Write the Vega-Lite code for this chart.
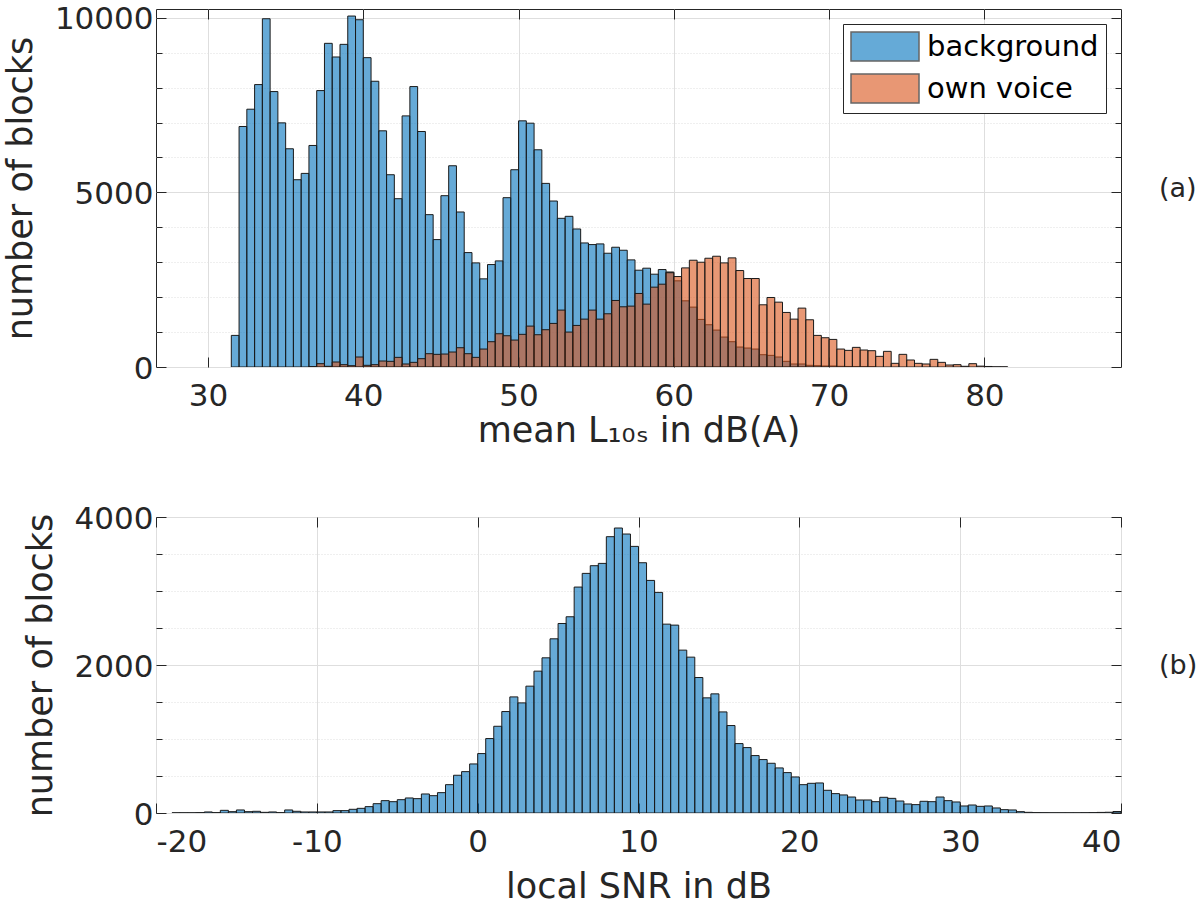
{
  "$schema": "https://vega.github.io/schema/vega-lite/v6.json",
  "padding": {"left": 2, "top": 3, "right": 0, "bottom": 0},
  "config": {
    "font": "DejaVu Sans",
    "view": {"stroke": "#262626", "strokeWidth": 1},
    "axis": {
      "domain": false,
      "labelFontSize": 31,
      "labelColor": "#262626",
      "titleFontSize": 35,
      "titleFontWeight": "normal",
      "titleColor": "#262626",
      "tickColor": "#262626",
      "gridColor": "#dedede",
      "gridWidth": 1
    }
  },
  "datasets": {
    "levels": [
      {"lo": 31.5, "hi": 32.0, "n": 905, "s": "background"},
      {"lo": 32.0, "hi": 32.5, "n": 6886, "s": "background"},
      {"lo": 32.5, "hi": 33.0, "n": 7381, "s": "background"},
      {"lo": 33.0, "hi": 33.5, "n": 8086, "s": "background"},
      {"lo": 33.5, "hi": 34.0, "n": 9971, "s": "background"},
      {"lo": 34.0, "hi": 34.5, "n": 7886, "s": "background"},
      {"lo": 34.5, "hi": 35.0, "n": 6990, "s": "background"},
      {"lo": 35.0, "hi": 35.5, "n": 6248, "s": "background"},
      {"lo": 35.5, "hi": 36.0, "n": 5362, "s": "background"},
      {"lo": 36.0, "hi": 36.5, "n": 5543, "s": "background"},
      {"lo": 36.5, "hi": 37.0, "n": 6343, "s": "background"},
      {"lo": 37.0, "hi": 37.5, "n": 7914, "s": "background"},
      {"lo": 37.5, "hi": 38.0, "n": 9267, "s": "background"},
      {"lo": 38.0, "hi": 38.5, "n": 8876, "s": "background"},
      {"lo": 38.5, "hi": 39.0, "n": 9238, "s": "background"},
      {"lo": 39.0, "hi": 39.5, "n": 10048, "s": "background"},
      {"lo": 39.5, "hi": 40.0, "n": 9943, "s": "background"},
      {"lo": 40.0, "hi": 40.5, "n": 8857, "s": "background"},
      {"lo": 40.5, "hi": 41.0, "n": 8181, "s": "background"},
      {"lo": 41.0, "hi": 41.5, "n": 6762, "s": "background"},
      {"lo": 41.5, "hi": 42.0, "n": 5505, "s": "background"},
      {"lo": 42.0, "hi": 42.5, "n": 4819, "s": "background"},
      {"lo": 42.5, "hi": 43.0, "n": 7190, "s": "background"},
      {"lo": 43.0, "hi": 43.5, "n": 8029, "s": "background"},
      {"lo": 43.5, "hi": 44.0, "n": 6743, "s": "background"},
      {"lo": 44.0, "hi": 44.5, "n": 4362, "s": "background"},
      {"lo": 44.5, "hi": 45.0, "n": 3648, "s": "background"},
      {"lo": 45.0, "hi": 45.5, "n": 4905, "s": "background"},
      {"lo": 45.5, "hi": 46.0, "n": 5762, "s": "background"},
      {"lo": 46.0, "hi": 46.5, "n": 4438, "s": "background"},
      {"lo": 46.5, "hi": 47.0, "n": 3276, "s": "background"},
      {"lo": 47.0, "hi": 47.5, "n": 2981, "s": "background"},
      {"lo": 47.5, "hi": 48.0, "n": 2524, "s": "background"},
      {"lo": 48.0, "hi": 48.5, "n": 2933, "s": "background"},
      {"lo": 48.5, "hi": 49.0, "n": 3038, "s": "background"},
      {"lo": 49.0, "hi": 49.5, "n": 4848, "s": "background"},
      {"lo": 49.5, "hi": 50.0, "n": 5648, "s": "background"},
      {"lo": 50.0, "hi": 50.5, "n": 7048, "s": "background"},
      {"lo": 50.5, "hi": 51.0, "n": 6981, "s": "background"},
      {"lo": 51.0, "hi": 51.5, "n": 6219, "s": "background"},
      {"lo": 51.5, "hi": 52.0, "n": 5257, "s": "background"},
      {"lo": 52.0, "hi": 52.5, "n": 4752, "s": "background"},
      {"lo": 52.5, "hi": 53.0, "n": 4257, "s": "background"},
      {"lo": 53.0, "hi": 53.5, "n": 4314, "s": "background"},
      {"lo": 53.5, "hi": 54.0, "n": 3952, "s": "background"},
      {"lo": 54.0, "hi": 54.5, "n": 3552, "s": "background"},
      {"lo": 54.5, "hi": 55.0, "n": 3505, "s": "background"},
      {"lo": 55.0, "hi": 55.5, "n": 3524, "s": "background"},
      {"lo": 55.5, "hi": 56.0, "n": 3257, "s": "background"},
      {"lo": 56.0, "hi": 56.5, "n": 3429, "s": "background"},
      {"lo": 56.5, "hi": 57.0, "n": 3343, "s": "background"},
      {"lo": 57.0, "hi": 57.5, "n": 3067, "s": "background"},
      {"lo": 57.5, "hi": 58.0, "n": 2771, "s": "background"},
      {"lo": 58.0, "hi": 58.5, "n": 2829, "s": "background"},
      {"lo": 58.5, "hi": 59.0, "n": 2657, "s": "background"},
      {"lo": 59.0, "hi": 59.5, "n": 2790, "s": "background"},
      {"lo": 59.5, "hi": 60.0, "n": 2720, "s": "background"},
      {"lo": 60.0, "hi": 60.5, "n": 2467, "s": "background"},
      {"lo": 60.5, "hi": 61.0, "n": 1895, "s": "background"},
      {"lo": 61.0, "hi": 61.5, "n": 1714, "s": "background"},
      {"lo": 61.5, "hi": 62.0, "n": 1362, "s": "background"},
      {"lo": 62.0, "hi": 62.5, "n": 1210, "s": "background"},
      {"lo": 62.5, "hi": 63.0, "n": 1057, "s": "background"},
      {"lo": 63.0, "hi": 63.5, "n": 857, "s": "background"},
      {"lo": 63.5, "hi": 64.0, "n": 724, "s": "background"},
      {"lo": 64.0, "hi": 64.5, "n": 571, "s": "background"},
      {"lo": 64.5, "hi": 65.0, "n": 543, "s": "background"},
      {"lo": 65.0, "hi": 65.5, "n": 514, "s": "background"},
      {"lo": 65.5, "hi": 66.0, "n": 352, "s": "background"},
      {"lo": 66.0, "hi": 66.5, "n": 333, "s": "background"},
      {"lo": 66.5, "hi": 67.0, "n": 286, "s": "background"},
      {"lo": 67.0, "hi": 67.5, "n": 162, "s": "background"},
      {"lo": 67.5, "hi": 68.0, "n": 86, "s": "background"},
      {"lo": 68.0, "hi": 68.5, "n": 86, "s": "background"},
      {"lo": 68.5, "hi": 69.0, "n": 48, "s": "background"},
      {"lo": 69.0, "hi": 69.5, "n": 38, "s": "background"},
      {"lo": 69.5, "hi": 70.0, "n": 29, "s": "background"},
      {"lo": 70.0, "hi": 70.5, "n": 29, "s": "background"},
      {"lo": 70.5, "hi": 71.0, "n": 20, "s": "background"},
      {"lo": 71.0, "hi": 71.5, "n": 15, "s": "background"},
      {"lo": 71.5, "hi": 72.0, "n": 10, "s": "background"},
      {"lo": 72.0, "hi": 72.5, "n": 8, "s": "background"},
      {"lo": 72.5, "hi": 73.0, "n": 5, "s": "background"},
      {"lo": 36.5, "hi": 37.0, "n": 10, "s": "own voice"},
      {"lo": 37.0, "hi": 37.5, "n": 95, "s": "own voice"},
      {"lo": 37.5, "hi": 38.0, "n": 20, "s": "own voice"},
      {"lo": 38.0, "hi": 38.5, "n": 143, "s": "own voice"},
      {"lo": 38.5, "hi": 39.0, "n": 67, "s": "own voice"},
      {"lo": 39.0, "hi": 39.5, "n": 38, "s": "own voice"},
      {"lo": 39.5, "hi": 40.0, "n": 286, "s": "own voice"},
      {"lo": 40.0, "hi": 40.5, "n": 48, "s": "own voice"},
      {"lo": 40.5, "hi": 41.0, "n": 67, "s": "own voice"},
      {"lo": 41.0, "hi": 41.5, "n": 171, "s": "own voice"},
      {"lo": 41.5, "hi": 42.0, "n": 162, "s": "own voice"},
      {"lo": 42.0, "hi": 42.5, "n": 276, "s": "own voice"},
      {"lo": 42.5, "hi": 43.0, "n": 86, "s": "own voice"},
      {"lo": 43.0, "hi": 43.5, "n": 133, "s": "own voice"},
      {"lo": 43.5, "hi": 44.0, "n": 238, "s": "own voice"},
      {"lo": 44.0, "hi": 44.5, "n": 381, "s": "own voice"},
      {"lo": 44.5, "hi": 45.0, "n": 362, "s": "own voice"},
      {"lo": 45.0, "hi": 45.5, "n": 371, "s": "own voice"},
      {"lo": 45.5, "hi": 46.0, "n": 429, "s": "own voice"},
      {"lo": 46.0, "hi": 46.5, "n": 552, "s": "own voice"},
      {"lo": 46.5, "hi": 47.0, "n": 381, "s": "own voice"},
      {"lo": 47.0, "hi": 47.5, "n": 276, "s": "own voice"},
      {"lo": 47.5, "hi": 48.0, "n": 514, "s": "own voice"},
      {"lo": 48.0, "hi": 48.5, "n": 724, "s": "own voice"},
      {"lo": 48.5, "hi": 49.0, "n": 952, "s": "own voice"},
      {"lo": 49.0, "hi": 49.5, "n": 895, "s": "own voice"},
      {"lo": 49.5, "hi": 50.0, "n": 771, "s": "own voice"},
      {"lo": 50.0, "hi": 50.5, "n": 935, "s": "own voice"},
      {"lo": 50.5, "hi": 51.0, "n": 1171, "s": "own voice"},
      {"lo": 51.0, "hi": 51.5, "n": 924, "s": "own voice"},
      {"lo": 51.5, "hi": 52.0, "n": 1067, "s": "own voice"},
      {"lo": 52.0, "hi": 52.5, "n": 1248, "s": "own voice"},
      {"lo": 52.5, "hi": 53.0, "n": 1629, "s": "own voice"},
      {"lo": 53.0, "hi": 53.5, "n": 1000, "s": "own voice"},
      {"lo": 53.5, "hi": 54.0, "n": 1190, "s": "own voice"},
      {"lo": 54.0, "hi": 54.5, "n": 1371, "s": "own voice"},
      {"lo": 54.5, "hi": 55.0, "n": 1629, "s": "own voice"},
      {"lo": 55.0, "hi": 55.5, "n": 1371, "s": "own voice"},
      {"lo": 55.5, "hi": 56.0, "n": 1524, "s": "own voice"},
      {"lo": 56.0, "hi": 56.5, "n": 1905, "s": "own voice"},
      {"lo": 56.5, "hi": 57.0, "n": 1724, "s": "own voice"},
      {"lo": 57.0, "hi": 57.5, "n": 1743, "s": "own voice"},
      {"lo": 57.5, "hi": 58.0, "n": 2105, "s": "own voice"},
      {"lo": 58.0, "hi": 58.5, "n": 1800, "s": "own voice"},
      {"lo": 58.5, "hi": 59.0, "n": 2286, "s": "own voice"},
      {"lo": 59.0, "hi": 59.5, "n": 2371, "s": "own voice"},
      {"lo": 59.5, "hi": 60.0, "n": 2700, "s": "own voice"},
      {"lo": 60.0, "hi": 60.5, "n": 2590, "s": "own voice"},
      {"lo": 60.5, "hi": 61.0, "n": 2838, "s": "own voice"},
      {"lo": 61.0, "hi": 61.5, "n": 3057, "s": "own voice"},
      {"lo": 61.5, "hi": 62.0, "n": 3000, "s": "own voice"},
      {"lo": 62.0, "hi": 62.5, "n": 3114, "s": "own voice"},
      {"lo": 62.5, "hi": 63.0, "n": 3171, "s": "own voice"},
      {"lo": 63.0, "hi": 63.5, "n": 2981, "s": "own voice"},
      {"lo": 63.5, "hi": 64.0, "n": 3124, "s": "own voice"},
      {"lo": 64.0, "hi": 64.5, "n": 2762, "s": "own voice"},
      {"lo": 64.5, "hi": 65.0, "n": 2533, "s": "own voice"},
      {"lo": 65.0, "hi": 65.5, "n": 2533, "s": "own voice"},
      {"lo": 65.5, "hi": 66.0, "n": 1781, "s": "own voice"},
      {"lo": 66.0, "hi": 66.5, "n": 1990, "s": "own voice"},
      {"lo": 66.5, "hi": 67.0, "n": 1857, "s": "own voice"},
      {"lo": 67.0, "hi": 67.5, "n": 1562, "s": "own voice"},
      {"lo": 67.5, "hi": 68.0, "n": 1371, "s": "own voice"},
      {"lo": 68.0, "hi": 68.5, "n": 1686, "s": "own voice"},
      {"lo": 68.5, "hi": 69.0, "n": 1352, "s": "own voice"},
      {"lo": 69.0, "hi": 69.5, "n": 905, "s": "own voice"},
      {"lo": 69.5, "hi": 70.0, "n": 838, "s": "own voice"},
      {"lo": 70.0, "hi": 70.5, "n": 790, "s": "own voice"},
      {"lo": 70.5, "hi": 71.0, "n": 514, "s": "own voice"},
      {"lo": 71.0, "hi": 71.5, "n": 476, "s": "own voice"},
      {"lo": 71.5, "hi": 72.0, "n": 562, "s": "own voice"},
      {"lo": 72.0, "hi": 72.5, "n": 486, "s": "own voice"},
      {"lo": 72.5, "hi": 73.0, "n": 467, "s": "own voice"},
      {"lo": 73.0, "hi": 73.5, "n": 305, "s": "own voice"},
      {"lo": 73.5, "hi": 74.0, "n": 448, "s": "own voice"},
      {"lo": 74.0, "hi": 74.5, "n": 105, "s": "own voice"},
      {"lo": 74.5, "hi": 75.0, "n": 362, "s": "own voice"},
      {"lo": 75.0, "hi": 75.5, "n": 200, "s": "own voice"},
      {"lo": 75.5, "hi": 76.0, "n": 105, "s": "own voice"},
      {"lo": 76.0, "hi": 76.5, "n": 86, "s": "own voice"},
      {"lo": 76.5, "hi": 77.0, "n": 219, "s": "own voice"},
      {"lo": 77.0, "hi": 77.5, "n": 133, "s": "own voice"},
      {"lo": 77.5, "hi": 78.0, "n": 57, "s": "own voice"},
      {"lo": 78.0, "hi": 78.5, "n": 67, "s": "own voice"},
      {"lo": 78.5, "hi": 79.0, "n": 20, "s": "own voice"},
      {"lo": 79.0, "hi": 79.5, "n": 95, "s": "own voice"},
      {"lo": 79.5, "hi": 80.0, "n": 25, "s": "own voice"},
      {"lo": 80.0, "hi": 80.5, "n": 15, "s": "own voice"},
      {"lo": 80.5, "hi": 81.0, "n": 5, "s": "own voice"},
      {"lo": 81.0, "hi": 81.5, "n": 5, "s": "own voice"}
    ],
    "snr": [
      {"lo": -19.0, "hi": -18.5, "n": 3},
      {"lo": -18.5, "hi": -18.0, "n": 3},
      {"lo": -18.0, "hi": -17.5, "n": 3},
      {"lo": -17.5, "hi": -17.0, "n": 5},
      {"lo": -17.0, "hi": -16.5, "n": 14},
      {"lo": -16.5, "hi": -16.0, "n": 5},
      {"lo": -16.0, "hi": -15.5, "n": 36},
      {"lo": -15.5, "hi": -15.0, "n": 18},
      {"lo": -15.0, "hi": -14.5, "n": 41},
      {"lo": -14.5, "hi": -14.0, "n": 18},
      {"lo": -14.0, "hi": -13.5, "n": 23},
      {"lo": -13.5, "hi": -13.0, "n": 9},
      {"lo": -13.0, "hi": -12.5, "n": 14},
      {"lo": -12.5, "hi": -12.0, "n": 5},
      {"lo": -12.0, "hi": -11.5, "n": 41},
      {"lo": -11.5, "hi": -11.0, "n": 23},
      {"lo": -11.0, "hi": -10.5, "n": 14},
      {"lo": -10.5, "hi": -10.0, "n": 14},
      {"lo": -10.0, "hi": -9.5, "n": 14},
      {"lo": -9.5, "hi": -9.0, "n": 14},
      {"lo": -9.0, "hi": -8.5, "n": 32},
      {"lo": -8.5, "hi": -8.0, "n": 32},
      {"lo": -8.0, "hi": -7.5, "n": 50},
      {"lo": -7.5, "hi": -7.0, "n": 63},
      {"lo": -7.0, "hi": -6.5, "n": 86},
      {"lo": -6.5, "hi": -6.0, "n": 126},
      {"lo": -6.0, "hi": -5.5, "n": 167},
      {"lo": -5.5, "hi": -5.0, "n": 153},
      {"lo": -5.0, "hi": -4.5, "n": 180},
      {"lo": -4.5, "hi": -4.0, "n": 203},
      {"lo": -4.0, "hi": -3.5, "n": 194},
      {"lo": -3.5, "hi": -3.0, "n": 257},
      {"lo": -3.0, "hi": -2.5, "n": 234},
      {"lo": -2.5, "hi": -2.0, "n": 275},
      {"lo": -2.0, "hi": -1.5, "n": 383},
      {"lo": -1.5, "hi": -1.0, "n": 510},
      {"lo": -1.0, "hi": -0.5, "n": 559},
      {"lo": -0.5, "hi": 0.0, "n": 663},
      {"lo": 0.0, "hi": 0.5, "n": 803},
      {"lo": 0.5, "hi": 1.0, "n": 1006},
      {"lo": 1.0, "hi": 1.5, "n": 1172},
      {"lo": 1.5, "hi": 2.0, "n": 1371},
      {"lo": 2.0, "hi": 2.5, "n": 1569},
      {"lo": 2.5, "hi": 3.0, "n": 1488},
      {"lo": 3.0, "hi": 3.5, "n": 1714},
      {"lo": 3.5, "hi": 4.0, "n": 1917},
      {"lo": 4.0, "hi": 4.5, "n": 2097},
      {"lo": 4.5, "hi": 5.0, "n": 2354},
      {"lo": 5.0, "hi": 5.5, "n": 2561},
      {"lo": 5.5, "hi": 6.0, "n": 2652},
      {"lo": 6.0, "hi": 6.5, "n": 3053},
      {"lo": 6.5, "hi": 7.0, "n": 3238},
      {"lo": 7.0, "hi": 7.5, "n": 3342},
      {"lo": 7.5, "hi": 8.0, "n": 3373},
      {"lo": 8.0, "hi": 8.5, "n": 3734},
      {"lo": 8.5, "hi": 9.0, "n": 3851},
      {"lo": 9.0, "hi": 9.5, "n": 3770},
      {"lo": 9.5, "hi": 10.0, "n": 3603},
      {"lo": 10.0, "hi": 10.5, "n": 3382},
      {"lo": 10.5, "hi": 11.0, "n": 3143},
      {"lo": 11.0, "hi": 11.5, "n": 2981},
      {"lo": 11.5, "hi": 12.0, "n": 2552},
      {"lo": 12.0, "hi": 12.5, "n": 2539},
      {"lo": 12.5, "hi": 13.0, "n": 2201},
      {"lo": 13.0, "hi": 13.5, "n": 2106},
      {"lo": 13.5, "hi": 14.0, "n": 1831},
      {"lo": 14.0, "hi": 14.5, "n": 1556},
      {"lo": 14.5, "hi": 15.0, "n": 1610},
      {"lo": 15.0, "hi": 15.5, "n": 1366},
      {"lo": 15.5, "hi": 16.0, "n": 1182},
      {"lo": 16.0, "hi": 16.5, "n": 938},
      {"lo": 16.5, "hi": 17.0, "n": 884},
      {"lo": 17.0, "hi": 17.5, "n": 776},
      {"lo": 17.5, "hi": 18.0, "n": 722},
      {"lo": 18.0, "hi": 18.5, "n": 672},
      {"lo": 18.5, "hi": 19.0, "n": 609},
      {"lo": 19.0, "hi": 19.5, "n": 546},
      {"lo": 19.5, "hi": 20.0, "n": 487},
      {"lo": 20.0, "hi": 20.5, "n": 383},
      {"lo": 20.5, "hi": 21.0, "n": 401},
      {"lo": 21.0, "hi": 21.5, "n": 406},
      {"lo": 21.5, "hi": 22.0, "n": 307},
      {"lo": 22.0, "hi": 22.5, "n": 262},
      {"lo": 22.5, "hi": 23.0, "n": 244},
      {"lo": 23.0, "hi": 23.5, "n": 216},
      {"lo": 23.5, "hi": 24.0, "n": 176},
      {"lo": 24.0, "hi": 24.5, "n": 176},
      {"lo": 24.5, "hi": 25.0, "n": 153},
      {"lo": 25.0, "hi": 25.5, "n": 212},
      {"lo": 25.5, "hi": 26.0, "n": 198},
      {"lo": 26.0, "hi": 26.5, "n": 162},
      {"lo": 26.5, "hi": 27.0, "n": 122},
      {"lo": 27.0, "hi": 27.5, "n": 113},
      {"lo": 27.5, "hi": 28.0, "n": 158},
      {"lo": 28.0, "hi": 28.5, "n": 153},
      {"lo": 28.5, "hi": 29.0, "n": 216},
      {"lo": 29.0, "hi": 29.5, "n": 167},
      {"lo": 29.5, "hi": 30.0, "n": 149},
      {"lo": 30.0, "hi": 30.5, "n": 95},
      {"lo": 30.5, "hi": 31.0, "n": 108},
      {"lo": 31.0, "hi": 31.5, "n": 90},
      {"lo": 31.5, "hi": 32.0, "n": 95},
      {"lo": 32.0, "hi": 32.5, "n": 68},
      {"lo": 32.5, "hi": 33.0, "n": 45},
      {"lo": 33.0, "hi": 33.5, "n": 41},
      {"lo": 33.5, "hi": 34.0, "n": 18},
      {"lo": 34.0, "hi": 34.5, "n": 9},
      {"lo": 34.5, "hi": 35.0, "n": 5},
      {"lo": 35.0, "hi": 35.5, "n": 4},
      {"lo": 35.5, "hi": 36.0, "n": 3},
      {"lo": 36.0, "hi": 36.5, "n": 3},
      {"lo": 36.5, "hi": 37.0, "n": 3},
      {"lo": 37.0, "hi": 37.5, "n": 3},
      {"lo": 37.5, "hi": 38.0, "n": 4},
      {"lo": 38.0, "hi": 38.5, "n": 5},
      {"lo": 38.5, "hi": 39.0, "n": 8},
      {"lo": 39.0, "hi": 39.5, "n": 10},
      {"lo": 39.5, "hi": 40.0, "n": 20}
    ]
  },
  "bounds": "flush",
  "spacing": 150,
  "resolve": {"scale": {"color": "independent"}, "legend": {"color": "independent"}},
  "vconcat": [
    {
      "width": 965,
      "height": 358,
      "data": {"name": "levels"},
      "layer": [
        {
          "mark": {"type": "bar", "fillOpacity": 0.6, "stroke": "#1a1a1a", "strokeWidth": 1, "clip": true},
          "encoding": {
            "x": {
              "field": "lo",
              "type": "quantitative",
              "scale": {"domain": [26.65, 88.8], "nice": false, "zero": false},
              "axis": {
                "orient": "bottom",
                "values": [30, 40, 50, 60, 70, 80],
                "tickSize": -10,
                "labelPadding": 24,
                "title": "mean L₁₀ₛ in dB(A)",
                "titlePadding": 2
              }
            },
            "x2": {"field": "hi"},
            "y": {
              "field": "n",
              "type": "quantitative",
              "scale": {"domain": [0, 10250], "nice": false},
              "axis": {
                "orient": "left",
                "values": [0, 1000, 2000, 3000, 4000, 5000, 6000, 7000, 8000, 9000, 10000],
                "format": "d",
                "labelExpr": "datum.value % 5000 === 0 ? datum.label : ''",
                "labelPadding": 13,
                "labelOffset": 2,
                "tickSize": {"condition": {"test": "datum.value % 5000 === 0", "value": -10}, "value": -6},
                "gridDash": {"condition": {"test": "datum.value % 5000 === 0", "value": []}, "value": [1, 2]},
                "title": "number of blocks",
                "titlePadding": 16
              }
            },
            "y2": {"datum": 0},
            "color": {
              "field": "s",
              "type": "nominal",
              "scale": {"domain": ["background", "own voice"], "range": ["#0072BD", "#D95319"]},
              "legend": {
                "title": null,
                "orient": "top-right",
                "offset": 15,
                "symbolType": "M-1,-1H3.69V1H-1Z",
                "symbolSize": 841,
                "symbolOpacity": 0.6,
                "symbolStrokeColor": "#000000",
                "symbolStrokeWidth": 1.5,
                "labelFontSize": 29,
                "labelColor": "#000000",
                "labelLimit": 0,
                "labelOffset": 46,
                "rowPadding": 7,
                "padding": 7,
                "strokeColor": "#262626",
                "fillColor": "#ffffff"
              }
            }
          }
        },
        {
          "mark": {"type": "point", "opacity": 0},
          "encoding": {
            "x": {
              "field": "lo",
              "type": "quantitative",
              "axis": {"orient": "top", "values": [30, 40, 50, 60, 70, 80], "labels": false, "grid": false, "tickSize": -10, "title": null}
            },
            "y": {
              "field": "n",
              "type": "quantitative",
              "axis": {
                "orient": "right",
                "values": [0, 1000, 2000, 3000, 4000, 5000, 6000, 7000, 8000, 9000, 10000],
                "labels": false,
                "grid": false,
                "tickSize": {"condition": {"test": "datum.value % 5000 === 0", "value": -10}, "value": -6},
                "title": "(a)",
                "titleAngle": 0,
                "titleAlign": "left",
                "titleBaseline": "middle",
                "titleFontSize": 27,
                "titlePadding": 37
              }
            }
          }
        }
      ],
      "resolve": {"axis": {"x": "independent", "y": "independent"}}
    },
    {
      "width": 965,
      "height": 296,
      "data": {"name": "snr"},
      "layer": [
        {
          "mark": {"type": "bar", "fill": "#0072BD", "fillOpacity": 0.6, "stroke": "#1a1a1a", "strokeWidth": 1, "clip": true},
          "encoding": {
            "x": {
              "field": "lo",
              "type": "quantitative",
              "scale": {"domain": [-20, 40], "nice": false, "zero": false},
              "axis": {
                "orient": "bottom",
                "values": [-20, -10, 0, 10, 20, 30, 40],
                "labelExpr": "'' + datum.value",
                "tickSize": -10,
                "labelPadding": 24,
                "title": "local SNR in dB",
                "titlePadding": 12
              }
            },
            "x2": {"field": "hi"},
            "y": {
              "field": "n",
              "type": "quantitative",
              "scale": {"domain": [0, 4000], "nice": false},
              "axis": {
                "orient": "left",
                "values": [0, 500, 1000, 1500, 2000, 2500, 3000, 3500, 4000],
                "format": "d",
                "labelExpr": "datum.value % 2000 === 0 ? datum.label : ''",
                "labelPadding": 13,
                "labelOffset": 2,
                "tickSize": {"condition": {"test": "datum.value % 2000 === 0", "value": -10}, "value": -6},
                "gridDash": {"condition": {"test": "datum.value % 2000 === 0", "value": []}, "value": [1, 2]},
                "title": "number of blocks",
                "titlePadding": 16
              }
            },
            "y2": {"datum": 0}
          }
        },
        {
          "mark": {"type": "point", "opacity": 0},
          "encoding": {
            "x": {
              "field": "lo",
              "type": "quantitative",
              "axis": {"orient": "top", "values": [-20, -10, 0, 10, 20, 30, 40], "labels": false, "grid": false, "tickSize": -10, "title": null}
            },
            "y": {
              "field": "n",
              "type": "quantitative",
              "axis": {
                "orient": "right",
                "values": [0, 500, 1000, 1500, 2000, 2500, 3000, 3500, 4000],
                "labels": false,
                "grid": false,
                "tickSize": {"condition": {"test": "datum.value % 2000 === 0", "value": -10}, "value": -6},
                "title": "(b)",
                "titleAngle": 0,
                "titleAlign": "left",
                "titleBaseline": "middle",
                "titleFontSize": 27,
                "titlePadding": 37
              }
            }
          }
        }
      ],
      "resolve": {"axis": {"x": "independent", "y": "independent"}}
    }
  ]
}
